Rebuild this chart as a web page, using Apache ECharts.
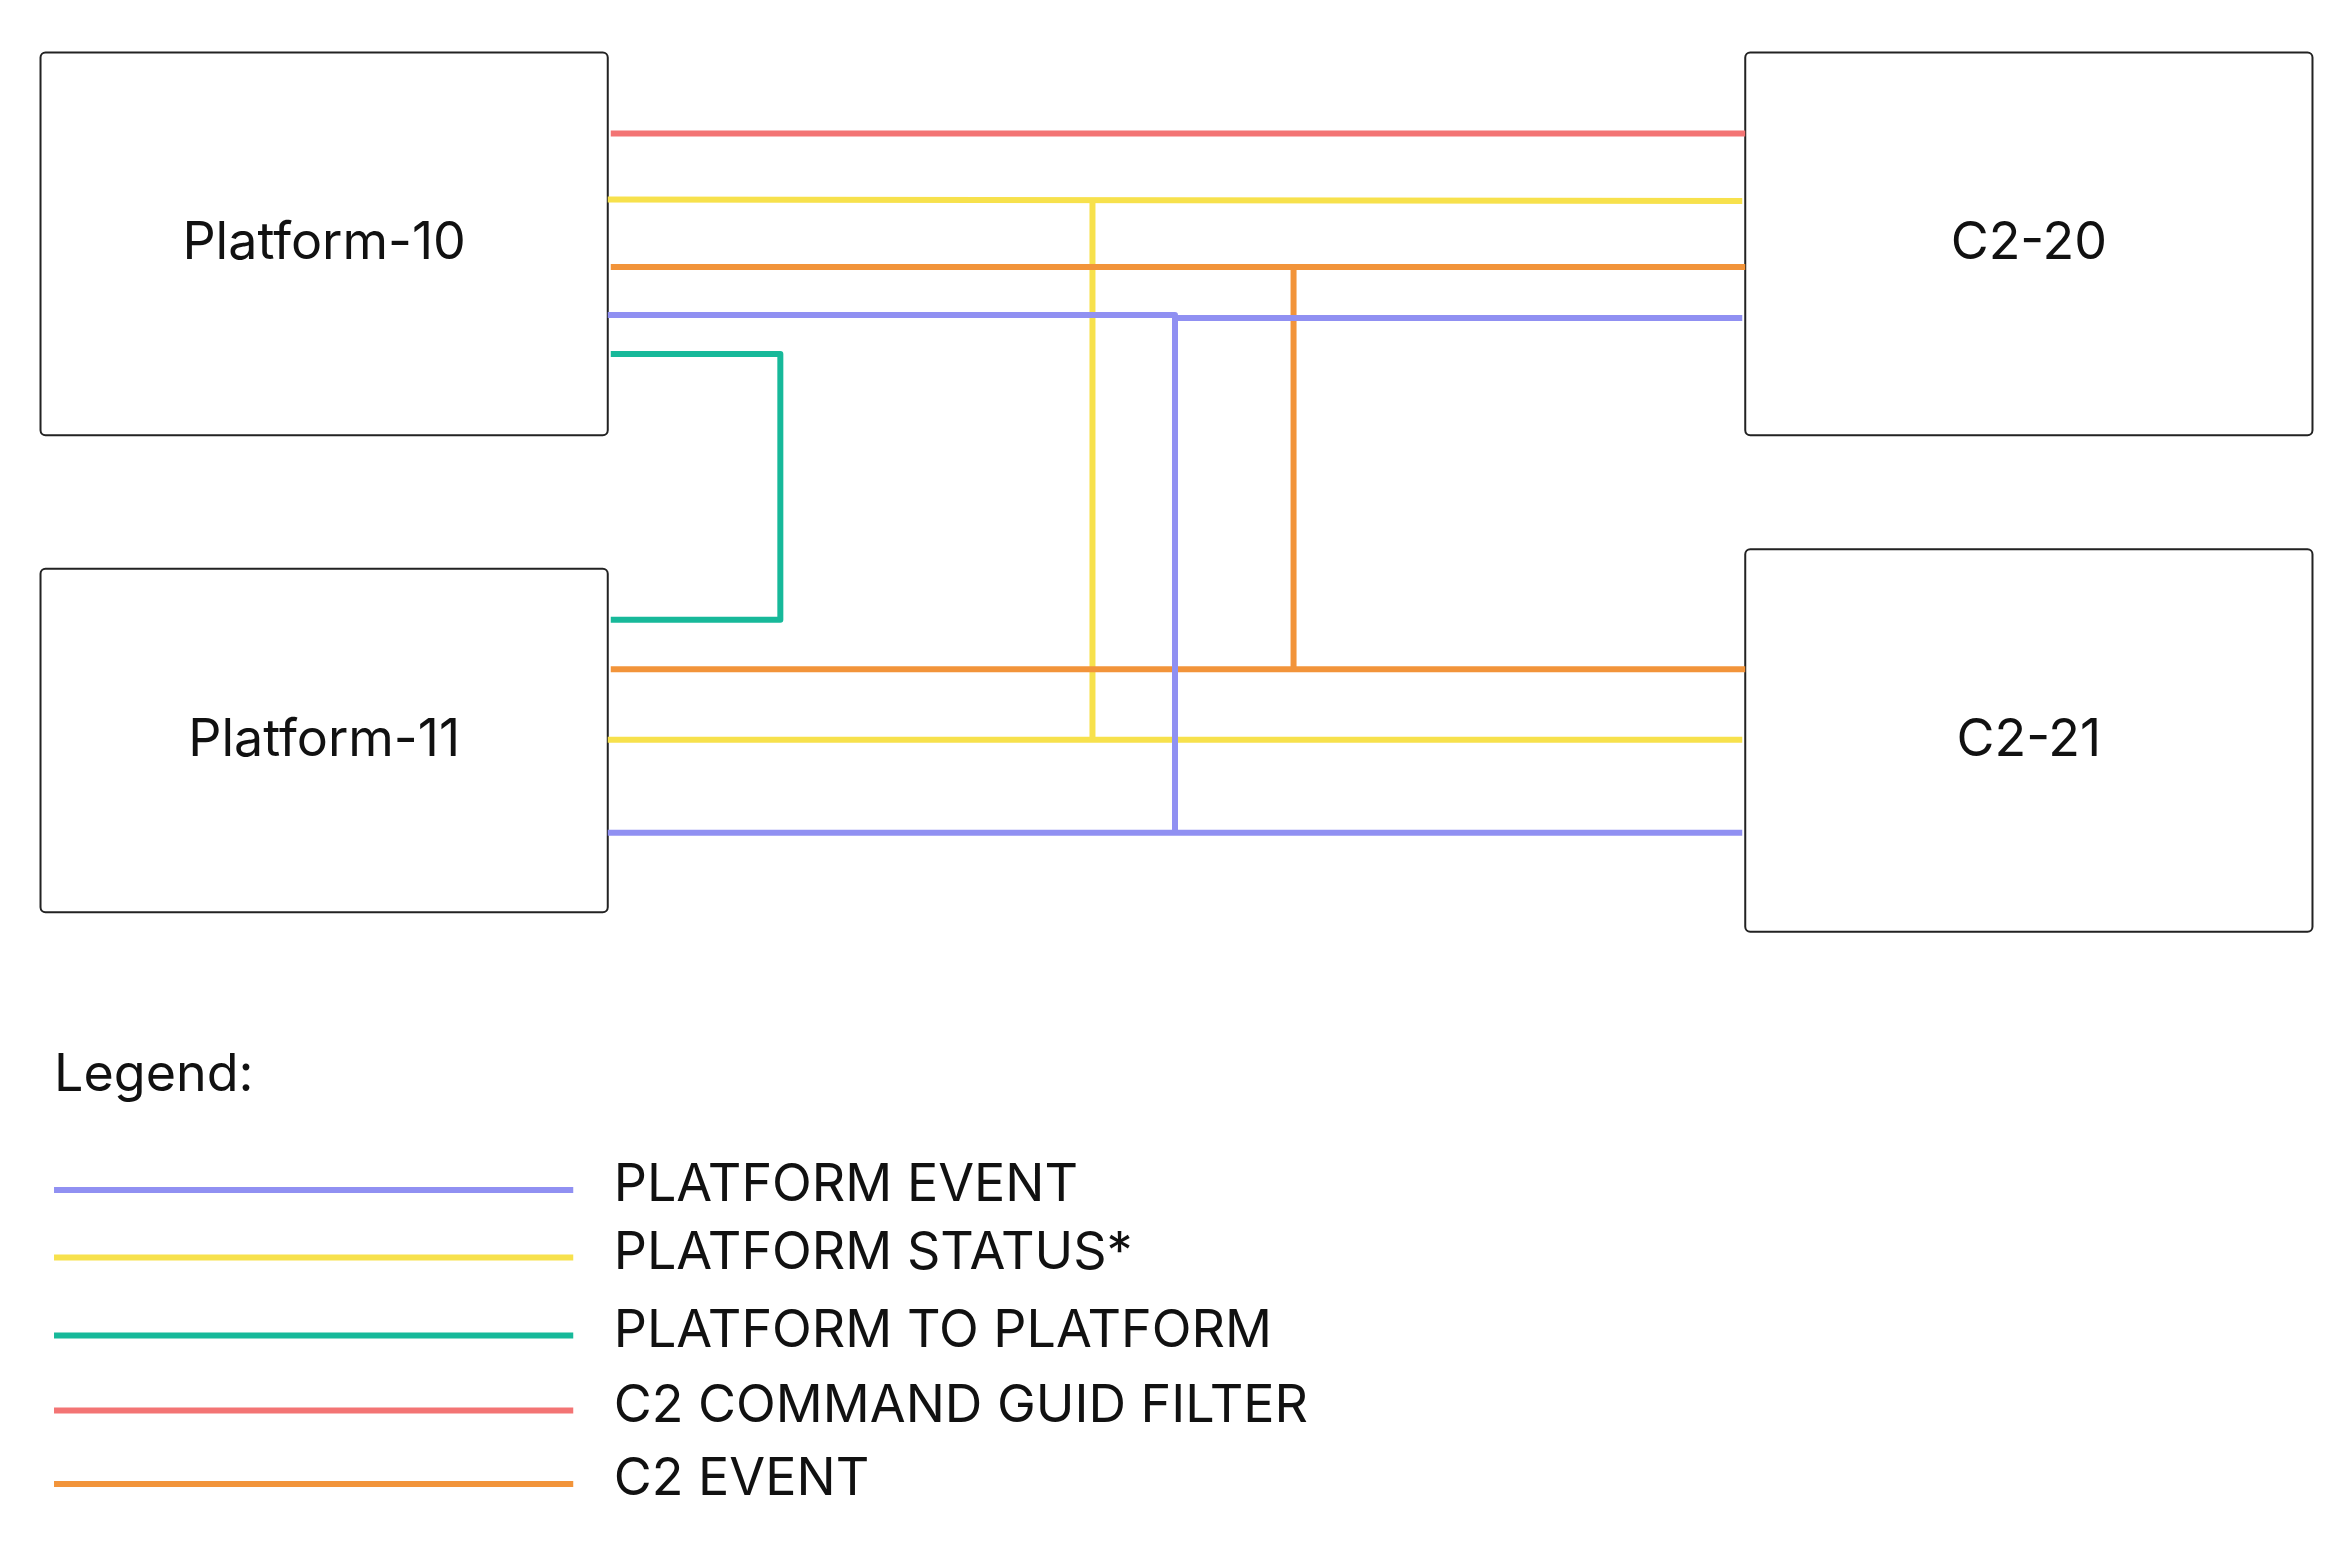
<!DOCTYPE html>
<html>
<head>
<meta charset="utf-8">
<script src="https://cdn.jsdelivr.net/npm/echarts@6/dist/echarts.min.js"></script>
<style>html,body{margin:0;padding:0;background:#fff}#main{width:2347px;height:1556px}</style>
</head>
<body>
<div id="main"></div>
<script>
// diagram drawn on a hidden value grid (units = reference pixels at 1564x1037)
var boxes = [
    {name: 'Platform-10', x0: 27, y0: 35, x1: 405, y1: 290},
    {name: 'Platform-11', x0: 27, y0: 379, x1: 405, y1: 608},
    {name: 'C2-20', x0: 1163, y0: 35, x1: 1541, y1: 290},
    {name: 'C2-21', x0: 1163, y0: 366, x1: 1541, y1: 621}
];

var colors = {
    event: '#9090f2',
    status: '#f7e14c',
    p2p: '#17b99a',
    guid: '#f37474',
    c2event: '#f2943a'
};

// [kind, points, arrowStart, arrowEnd]
var links = [
    ['guid', [[1163, 89], [407, 89]], false, true],
    ['status', [[405, 133], [1161, 134]], false, true],
    ['status', [[728, 133], [728, 493]], false, false],
    ['status', [[405, 493], [1161, 493]], false, true],
    ['c2event', [[1163, 178], [407, 178]], false, true],
    ['c2event', [[862, 178], [862, 446]], false, false],
    ['c2event', [[1163, 446], [407, 446]], false, true],
    ['event', [[405, 210], [783, 210], [783, 212], [1161, 212]], false, true],
    ['event', [[783, 210], [783, 555]], false, false],
    ['event', [[405, 555], [1161, 555]], false, true],
    ['p2p', [[407, 236], [520, 236], [520, 413], [407, 413]], true, true]
];

var legendTitle = {text: 'Legend:', x: 36, y: 717};
var legendItems = [
    ['event', 'PLATFORM EVENT', false, true],
    ['status', 'PLATFORM STATUS*', false, true],
    ['p2p', 'PLATFORM TO PLATFORM', true, true],
    ['guid', 'C2 COMMAND GUID FILTER', true, false],
    ['c2event', 'C2 EVENT', true, false]
];
var legendY = [793, 838, 890, 940, 989];
var legendX = [36, 382];
var legendTextX = 409;

var myChart = echarts.init(document.getElementById('main'));

var lineSeries = [];
function addLine(kind, pts, a0, a1) {
    lineSeries.push({
        type: 'lines',
        coordinateSystem: 'cartesian2d',
        polyline: true,
        silent: true,
        symbol: [a0 ? 'arrow' : 'none', a1 ? 'arrow' : 'none'],
        symbolSize: [20, 20],
        lineStyle: {color: colors[kind], width: 6, opacity: 1, join: 'round'},
        data: [{coords: pts}]
    });
}
links.forEach(function (l) { addLine(l[0], l[1], l[2], l[3]); });
legendItems.forEach(function (it, i) {
    addLine(it[0], [[legendX[0], legendY[i]], [legendX[1], legendY[i]]], it[2], it[3]);
});

var texts = legendItems.map(function (it, i) { return [legendTextX, legendY[i] - 3, it[1]]; });
texts.push([legendTitle.x, legendTitle.y, legendTitle.text]);

option = {
    animation: false,
    grid: {left: 0, right: 0, top: 0, bottom: 0},
    xAxis: {type: 'value', min: 0, max: 1564, show: false},
    yAxis: {type: 'value', min: 0, max: 1037, inverse: true, show: false},
    series: [
        {
            type: 'custom',
            silent: true,
            data: boxes.map(function (b) { return [b.x0, b.y0, b.x1, b.y1, b.name]; }),
            renderItem: function (params, api) {
                var p0 = api.coord([api.value(0), api.value(1)]);
                var p1 = api.coord([api.value(2), api.value(3)]);
                return {
                    type: 'group',
                    children: [{
                        type: 'rect',
                        shape: {x: p0[0], y: p0[1], width: p1[0] - p0[0], height: p1[1] - p0[1], r: 5},
                        style: {fill: '#fff', stroke: '#222', lineWidth: 2}
                    }, {
                        type: 'text',
                        style: {
                            x: (p0[0] + p1[0]) / 2, y: (p0[1] + p1[1]) / 2,
                            text: api.value(4), align: 'center', verticalAlign: 'middle',
                            font: '52px Inter', fill: '#111'
                        }
                    }]
                };
            },
            z: 1
        },
        {
            type: 'custom',
            silent: true,
            data: texts,
            renderItem: function (params, api) {
                var p = api.coord([api.value(0), api.value(1)]);
                return {
                    type: 'text',
                    style: {x: p[0], y: p[1], text: api.value(2), align: 'left',
                        verticalAlign: 'middle', font: '52px Inter', fill: '#111'}
                };
            }
        }
    ].concat(lineSeries)
};

myChart.setOption(option);
</script>
</body>
</html>
